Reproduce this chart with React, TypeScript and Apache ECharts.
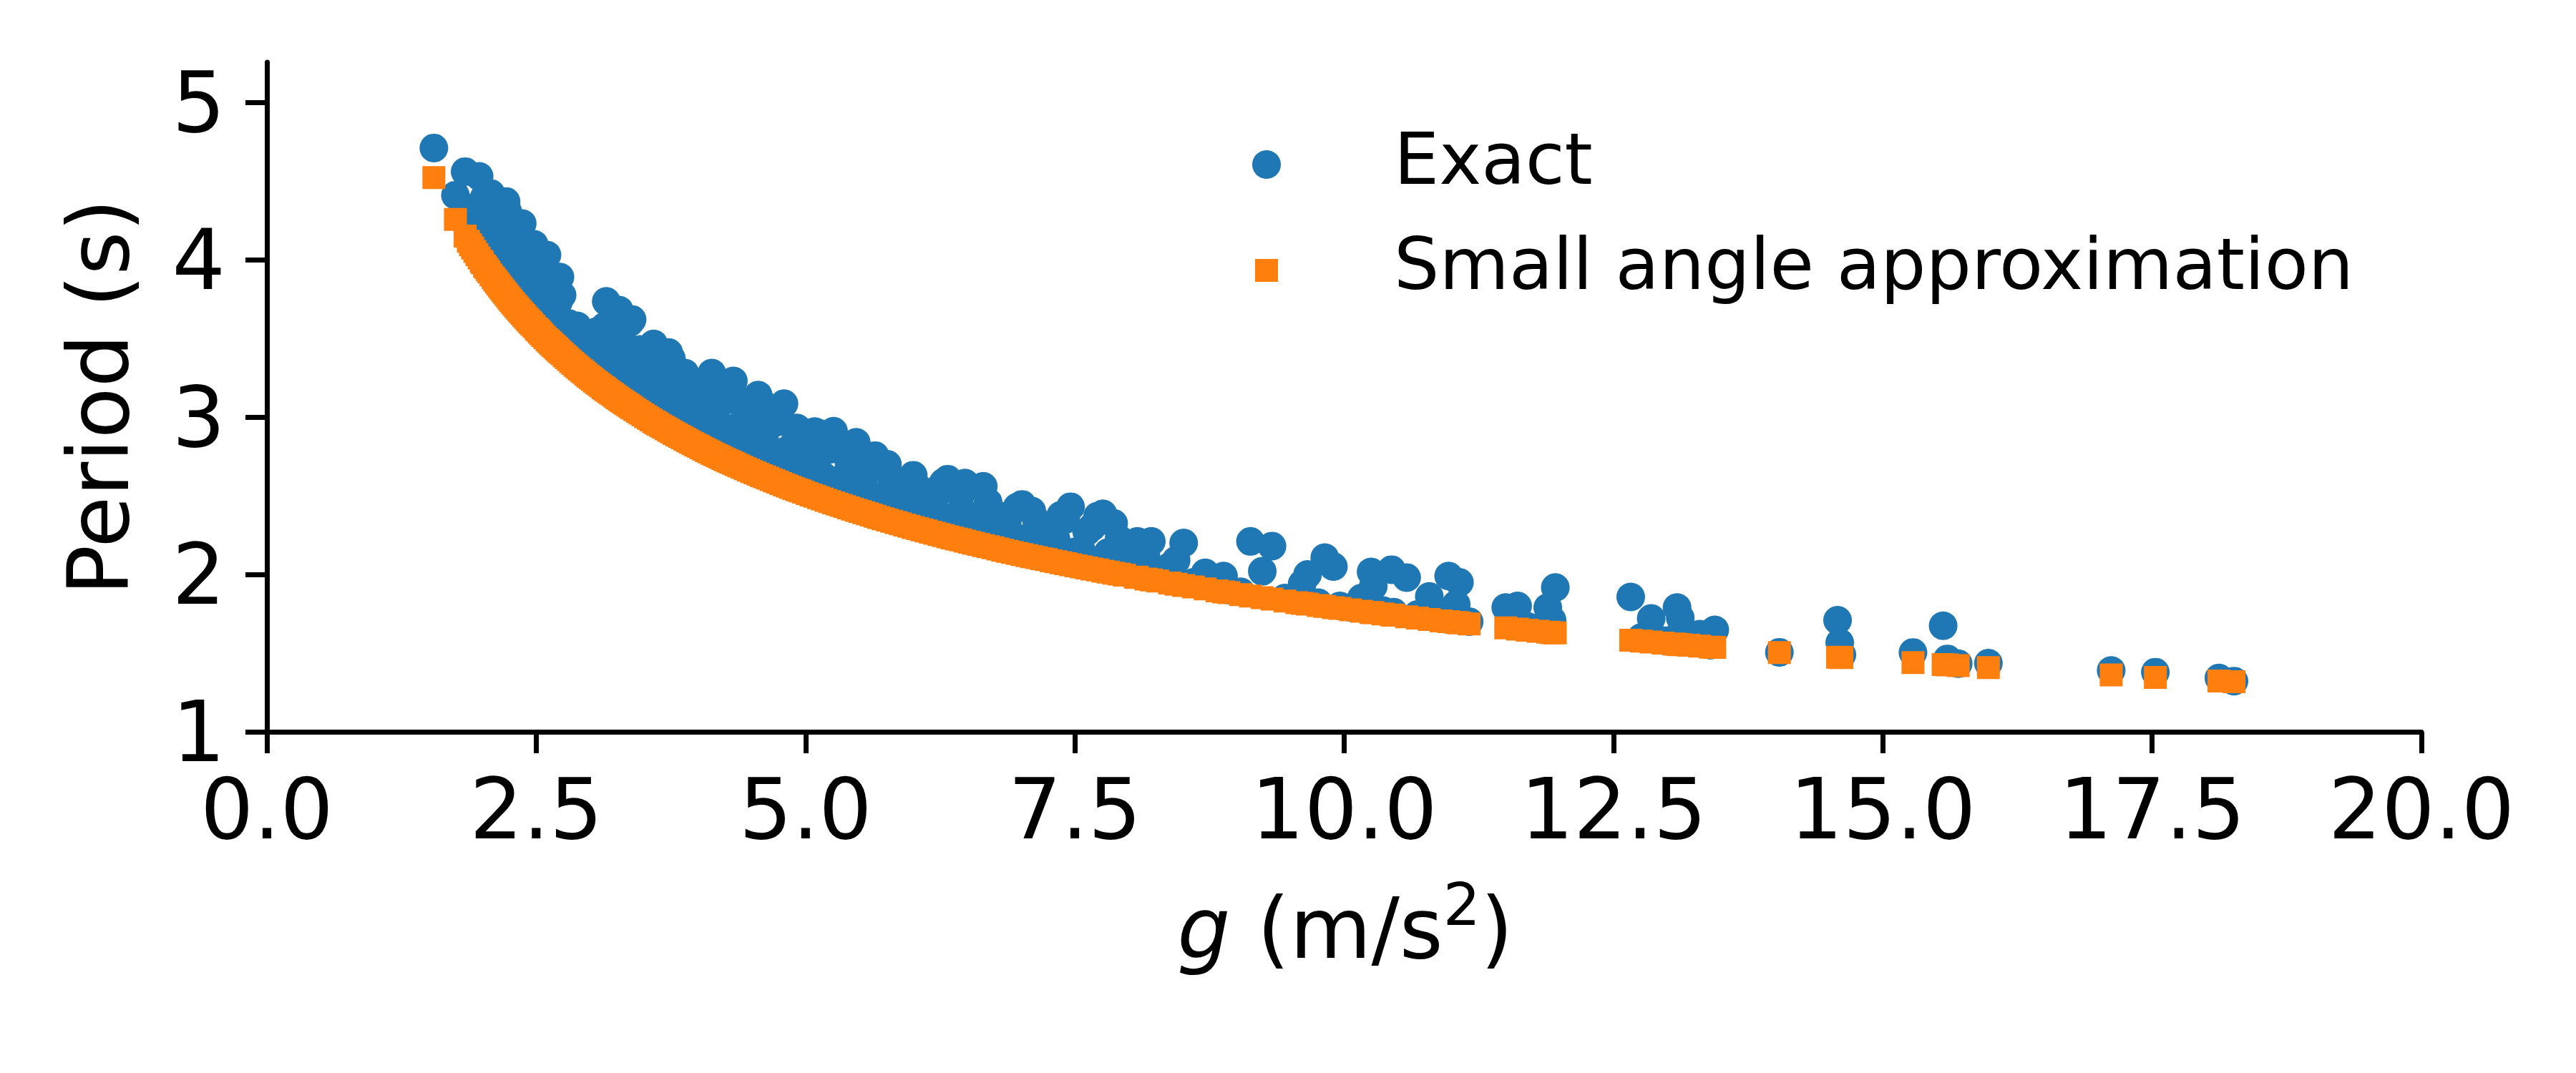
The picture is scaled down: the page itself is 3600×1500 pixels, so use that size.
import React, { useEffect, useRef } from "react";
import * as echarts from "echarts";

// g values (m/s^2), shared by both series
const gValues = [
  1.55, 1.75, 1.84, 1.87, 1.89, 1.91, 1.93, 1.95, 1.97, 1.99, 2.0, 2.02, 2.03, 2.045, 2.06, 2.08,
  2.1, 2.13, 2.16, 2.19, 2.22, 2.25, 2.28, 2.31, 2.34, 2.37, 2.4, 2.43, 2.46, 2.5, 2.53, 2.56,
  2.6, 2.63, 2.66, 2.69, 2.72, 2.76, 2.8, 2.84, 2.88, 2.92, 2.96, 3.0, 3.04, 3.08, 3.12, 3.15,
  3.19, 3.23, 3.27, 3.31, 3.35, 3.39, 3.44, 3.49, 3.54, 3.59, 3.63, 3.68, 3.73, 3.78, 3.83, 3.88,
  3.93, 3.98, 4.03, 4.08, 4.13, 4.18, 4.23, 4.28, 4.33, 4.38, 4.44, 4.5, 4.56, 4.62, 4.68, 4.74,
  4.8, 4.86, 4.92, 4.98, 5.05, 5.12, 5.19, 5.26, 5.33, 5.4, 5.47, 5.54, 5.61, 5.68, 5.76, 5.84,
  5.92, 6.0, 6.08, 6.16, 6.24, 6.32, 6.4, 6.48, 6.56, 6.65, 6.74, 6.83, 6.92, 7.01, 7.1, 7.19,
  7.28, 7.37, 7.46, 7.56, 7.66, 7.76, 7.86, 7.96, 8.06, 8.08, 8.16, 8.21, 8.27, 8.38, 8.44, 8.51,
  8.6, 8.71, 8.82, 8.88, 8.93, 9.04, 9.13, 9.24, 9.33, 9.45, 9.56, 9.61, 9.66, 9.76, 9.82, 9.9,
  9.96, 10.06, 10.16, 10.25, 10.27, 10.36, 10.44, 10.46, 10.58, 10.68, 10.79, 10.9, 10.97, 11.04, 11.07, 11.16,
  11.5, 11.61, 11.7, 11.8, 11.89, 11.93, 11.96, 12.66, 12.76, 12.85, 12.96, 13.06, 13.09, 13.12, 13.2, 13.3,
  13.4, 13.44, 14.04, 14.58, 14.6, 14.62, 15.28, 15.56, 15.6, 15.7, 15.98, 17.12, 17.53, 18.12, 18.26,
  // second pass through the dense part of the data
  2.115, 2.145, 2.175, 2.205, 2.235, 2.265, 2.295, 2.325, 2.355, 2.385, 2.415, 2.445, 2.48, 2.515, 2.545, 2.58,
  2.615, 2.645, 2.675, 2.705, 2.74, 2.78, 2.82, 2.86, 2.9, 2.94, 2.98, 3.02, 3.06, 3.1, 3.135, 3.17,
  3.21, 3.25, 3.29, 3.33, 3.37, 3.415, 3.465, 3.515, 3.565, 3.61, 3.655, 3.705, 3.755, 3.805, 3.855, 3.905,
  3.955, 4.005, 4.055, 4.105, 4.155, 4.205, 4.255, 4.305, 4.355, 4.41, 4.47, 4.53, 4.59, 4.65, 4.71, 4.77,
  4.83, 4.89, 4.95, 5.015, 5.085, 5.155, 5.225, 5.295, 5.365, 5.435, 5.505, 5.575, 5.645, 5.72, 5.8, 5.88,
  5.96, 6.04, 6.12, 6.2, 6.28, 6.36, 6.44, 6.52, 6.605, 6.695, 6.785, 6.875, 6.965, 7.055, 7.145, 7.235,
  7.325, 7.415, 7.51, 7.61, 7.71, 7.81, 7.91,
];

// Exact period (s)
const exactPeriods = [
  4.71, 4.41, 4.56, 4.13, 4.3, 4.09, 4.06, 4.34, 4.53, 4.35, 4.2, 4.4, 4.0, 4.15, 4.28, 4.42,
  4.01, 4.2, 3.855, 4.05, 4.37, 3.917, 4.093, 3.73, 3.94, 4.23, 3.71, 3.923, 4.094, 3.723, 3.904, 3.546,
  4.03, 3.746, 3.527, 3.713, 3.89, 3.482, 3.595, 3.354, 3.58, 3.423, 3.314, 3.49, 3.345, 3.247, 3.483, 3.735,
  3.322, 3.558, 3.68, 3.123, 3.358, 3.62, 3.145, 3.389, 3.177, 3.465, 2.982, 3.218, 3.41, 3.017, 3.194, 3.28,
  2.883, 3.041, 3.183, 2.932, 3.28, 3.064, 2.763, 3.11, 3.23, 2.876, 3.078, 2.705, 3.14, 2.86, 2.968, 2.685,
  3.085, 2.777, 2.931, 2.545, 2.766, 2.898, 2.6, 2.91, 2.483, 2.722, 2.84, 2.563, 2.737, 2.381, 2.7, 2.495,
  2.363, 2.63, 2.479, 2.349, 2.548, 2.605, 2.263, 2.581, 2.37, 2.56, 2.235, 2.368, 2.245, 2.445, 2.403, 2.13,
  2.269, 2.376, 2.43, 2.154, 2.301, 2.385, 2.325, 2.081, 2.06, 2.21, 2.12, 2.21, 2.0, 2.05, 2.09, 2.2,
  1.95, 2.01, 1.92, 1.99, 1.9, 1.89, 2.21, 2.02, 2.18, 1.85, 1.84, 1.94, 2.0, 1.82, 2.107, 2.05,
  1.8, 1.79, 1.85, 2.016, 1.925, 1.77, 2.03, 1.76, 1.98, 1.745, 1.86, 1.73, 1.99, 1.81, 1.95, 1.7,
  1.79, 1.8, 1.67, 1.66, 1.79, 1.71, 1.917, 1.857, 1.6, 1.72, 1.58, 1.59, 1.79, 1.724, 1.57, 1.62,
  1.55, 1.648, 1.505, 1.709, 1.566, 1.49, 1.504, 1.674, 1.463, 1.433, 1.436, 1.39, 1.379, 1.342, 1.322,
  4.076, 4.237, 3.941, 4.145, 4.307, 3.928, 4.105, 3.77, 3.915, 4.081, 3.752, 3.951, 4.098, 3.736, 3.924, 3.585,
  3.726, 3.88, 3.564, 3.73, 3.775, 3.476, 3.546, 3.368, 3.423, 3.497, 3.333, 3.432, 3.543, 3.353, 3.576, 3.247,
  3.398, 3.577, 3.246, 3.453, 3.602, 3.241, 3.43, 3.083, 3.224, 3.397, 3.076, 3.253, 3.371, 3.051, 3.196, 2.913,
  3.026, 3.167, 2.912, 3.101, 3.249, 2.926, 3.116, 2.792, 2.935, 3.096, 2.79, 2.974, 3.095, 2.78, 2.963, 2.654,
  2.79, 2.929, 2.645, 2.801, 2.908, 2.631, 2.795, 2.514, 2.626, 2.759, 2.508, 2.661, 2.755, 2.484, 2.595, 2.371,
  2.454, 2.554, 2.357, 2.478, 2.585, 2.362, 2.505, 2.263, 2.362, 2.459, 2.242, 2.344, 2.428, 2.232, 2.34, 2.139,
  2.225, 2.35, 2.145, 2.271, 2.37, 2.14, 2.226,
];

// Small angle approximation period (s)
const approxPeriods = [
  4.522, 4.256, 4.15, 4.117, 4.095, 4.074, 4.053, 4.032, 4.011, 3.991, 3.981, 3.961, 3.951, 3.937, 3.923, 3.904,
  3.885, 3.858, 3.831, 3.804, 3.779, 3.753, 3.728, 3.704, 3.68, 3.657, 3.634, 3.612, 3.59, 3.561, 3.54, 3.519,
  3.491, 3.472, 3.452, 3.433, 3.414, 3.389, 3.365, 3.341, 3.317, 3.295, 3.272, 3.25, 3.229, 3.208, 3.187, 3.172,
  3.152, 3.133, 3.113, 3.095, 3.076, 3.058, 3.036, 3.014, 2.992, 2.971, 2.955, 2.935, 2.915, 2.896, 2.877, 2.858,
  2.84, 2.822, 2.805, 2.787, 2.77, 2.754, 2.737, 2.721, 2.706, 2.69, 2.672, 2.654, 2.637, 2.619, 2.603, 2.586,
  2.57, 2.554, 2.538, 2.523, 2.505, 2.488, 2.471, 2.455, 2.439, 2.423, 2.407, 2.392, 2.377, 2.362, 2.346, 2.33,
  2.314, 2.298, 2.283, 2.268, 2.254, 2.239, 2.225, 2.212, 2.198, 2.183, 2.169, 2.154, 2.14, 2.126, 2.113, 2.1,
  2.087, 2.074, 2.061, 2.048, 2.034, 2.021, 2.008, 1.996, 1.983, 1.981, 1.971, 1.965, 1.958, 1.945, 1.938, 1.93,
  1.92, 1.908, 1.896, 1.889, 1.884, 1.872, 1.863, 1.852, 1.843, 1.831, 1.821, 1.816, 1.811, 1.802, 1.797, 1.789,
  1.784, 1.775, 1.766, 1.758, 1.757, 1.749, 1.742, 1.741, 1.731, 1.723, 1.714, 1.705, 1.7, 1.694, 1.692, 1.685,
  1.66, 1.652, 1.646, 1.639, 1.633, 1.63, 1.628, 1.582, 1.576, 1.571, 1.564, 1.558, 1.556, 1.554, 1.55, 1.544,
  1.538, 1.536, 1.503, 1.474, 1.473, 1.472, 1.44, 1.427, 1.425, 1.421, 1.408, 1.361, 1.345, 1.323, 1.318,
  3.872, 3.845, 3.818, 3.792, 3.766, 3.741, 3.716, 3.692, 3.669, 3.646, 3.623, 3.601, 3.576, 3.551, 3.53, 3.505,
  3.482, 3.462, 3.443, 3.424, 3.402, 3.377, 3.353, 3.329, 3.306, 3.284, 3.261, 3.24, 3.218, 3.198, 3.18, 3.162,
  3.143, 3.123, 3.104, 3.086, 3.067, 3.047, 3.025, 3.003, 2.982, 2.963, 2.945, 2.925, 2.906, 2.887, 2.868, 2.849,
  2.831, 2.814, 2.796, 2.779, 2.762, 2.746, 2.729, 2.714, 2.698, 2.681, 2.663, 2.646, 2.628, 2.611, 2.595, 2.578,
  2.562, 2.546, 2.531, 2.514, 2.497, 2.48, 2.463, 2.447, 2.431, 2.415, 2.4, 2.385, 2.37, 2.354, 2.338, 2.322,
  2.306, 2.291, 2.276, 2.261, 2.247, 2.232, 2.219, 2.205, 2.191, 2.176, 2.162, 2.147, 2.133, 2.12, 2.107, 2.094,
  2.081, 2.068, 2.055, 2.041, 2.028, 2.015, 2.002,
];

const seriesNames = ["Exact", "Small angle approximation"];
const yTickValues = [1, 2, 3, 4, 5];
const xMin = 0;
const xMax = 20;
const xInterval = 2.5;
const yMin = 1;
const yMax = 5.255;

const BLUE = "#1f77b4";
const ORANGE = "#ff7f0e";
const FONT = "DejaVu Sans";

export default function App() {
  const ref = useRef<HTMLDivElement>(null);

  useEffect(() => {
    if (!ref.current) return;
    const chart = echarts.init(ref.current, null, { renderer: "svg" });
    const n = Math.min(gValues.length, exactPeriods.length, approxPeriods.length);
    const exactData = gValues.slice(0, n).map((g, i) => [g, exactPeriods[i]]);
    const approxData = gValues.slice(0, n).map((g, i) => [g, approxPeriods[i]]);

    const axisLineStyle = { color: "#000", width: 7 };

    chart.setOption({
      animation: false,
      backgroundColor: "#fff",
      grid: { left: 373, top: 87, width: 3011, height: 936, containLabel: false },
      xAxis: {
        type: "value",
        min: xMin,
        max: xMax,
        interval: xInterval,
        axisLine: { show: true, lineStyle: axisLineStyle },
        axisTick: { show: true, inside: false, length: 30, lineStyle: axisLineStyle },
        axisLabel: {
          show: true,
          margin: 50,
          fontSize: 117,
          fontFamily: FONT,
          color: "#000",
          formatter: (v: number) => v.toFixed(1),
        },
        splitLine: { show: false },
      },
      yAxis: {
        type: "value",
        min: yMin,
        max: yMax,
        interval: 1,
        axisLine: { show: true, lineStyle: axisLineStyle },
        axisTick: {
          show: true,
          inside: false,
          length: 30,
          lineStyle: axisLineStyle,
          customValues: yTickValues,
        },
        axisLabel: {
          show: true,
          margin: 58,
          fontSize: 117,
          fontFamily: FONT,
          color: "#000",
          customValues: yTickValues,
          formatter: (v: number) => (Math.abs(v - Math.round(v)) < 1e-6 ? String(Math.round(v)) : ""),
        },
        splitLine: { show: false },
      },
      series: [
        {
          name: seriesNames[0],
          type: "scatter",
          symbol: "circle",
          symbolSize: 40,
          data: exactData,
          itemStyle: { color: BLUE, opacity: 1 },
          silent: true,
          z: 2,
        },
        {
          name: seriesNames[1],
          type: "scatter",
          symbol: "rect",
          symbolSize: 32,
          data: approxData,
          itemStyle: { color: ORANGE, opacity: 1 },
          silent: true,
          z: 3,
        },
      ],
      graphic: [
        // y axis title
        {
          type: "text",
          x: 138,
          y: 555,
          rotation: Math.PI / 2,
          style: {
            text: "Period (s)",
            fontSize: 117,
            fontFamily: FONT,
            fill: "#000",
            align: "center",
            verticalAlign: "middle",
          },
        },
        // x axis title with italic g and superscript 2
        {
          type: "text",
          x: 1880,
          y: 1298,
          style: {
            text: "{it|g} (m/s{sup|2})",
            fontSize: 117,
            fontFamily: FONT,
            fill: "#000",
            lineHeight: 150,
            align: "center",
            verticalAlign: "middle",
            rich: {
              it: { fontStyle: "italic", fontSize: 117, fontFamily: FONT, fill: "#000", lineHeight: 150 },
              sup: { fontSize: 82, fontFamily: FONT, fill: "#000", lineHeight: 82, verticalAlign: "top" },
            },
          },
        },
        // legend
        { type: "circle", shape: { cx: 1770, cy: 230, r: 20 }, style: { fill: BLUE } },
        {
          type: "text",
          x: 1948,
          y: 222,
          style: {
            text: seriesNames[0],
            fontSize: 100,
            fontFamily: FONT,
            fill: "#000",
            align: "left",
            verticalAlign: "middle",
          },
        },
        { type: "rect", shape: { x: 1754, y: 362, width: 32, height: 32 }, style: { fill: ORANGE } },
        {
          type: "text",
          x: 1948,
          y: 369,
          style: {
            text: seriesNames[1],
            fontSize: 100,
            fontFamily: FONT,
            fill: "#000",
            align: "left",
            verticalAlign: "middle",
          },
        },
      ],
    });

    return () => chart.dispose();
  }, []);

  return (
    <div
      ref={ref}
      style={{ position: "absolute", left: 0, top: 0, width: 3600, height: 1500, background: "#fff" }}
    />
  );
}
